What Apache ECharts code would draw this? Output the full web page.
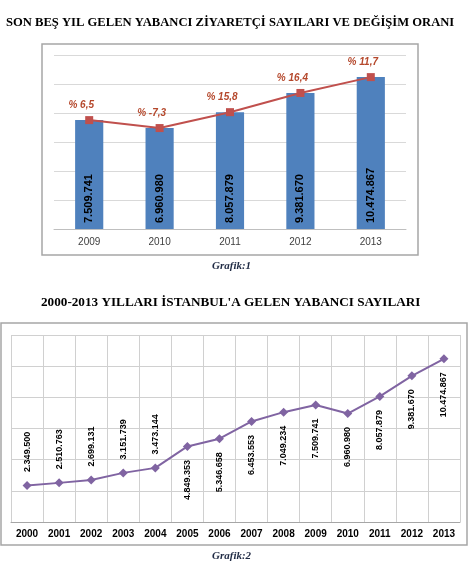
<!DOCTYPE html>
<html>
<head>
<meta charset="utf-8">
<script src="https://cdn.jsdelivr.net/npm/echarts@6/dist/echarts.min.js"></script>
<style>
  html, body { margin: 0; padding: 0; background: #fff; }
  #chart { width: 468px; height: 572px; }
</style>
</head>
<body>
<div id="chart"></div>
<script>
// Grafik 1: son beş yıl
var years1 = ['2009', '2010', '2011', '2012', '2013'];
var visitors1 = [7509741, 6960980, 8057879, 9381670, 10474867];
var changeRates = [6.5, -7.3, 15.8, 16.4, 11.7];

// Grafik 2: 2000-2013
var years2 = ['2000', '2001', '2002', '2003', '2004', '2005', '2006',
    '2007', '2008', '2009', '2010', '2011', '2012', '2013'];
var visitors2 = [2349500, 2510763, 2699131, 3151739, 3473144, 4849353, 5346658,
    6453553, 7049234, 7509741, 6960980, 8057879, 9381670, 10474867];

function fmt(v) {
    return String(v).replace(/\B(?=(\d{3})+(?!\d))/g, '.');
}

var chart = echarts.init(document.getElementById('chart'));

// first five labels above the line, the rest below
var line2Data = visitors2.map(function (v, i) {
    var below = i >= 5;
    return {
        value: v,
        label: {
            position: below ? 'bottom' : 'top',
            align: below ? 'right' : 'left'
        }
    };
});

chart.setOption({
    animation: false,
    title: [{
        text: 'SON BEŞ YIL GELEN YABANCI ZİYARETÇİ SAYILARI VE DEĞİŞİM ORANI',
        left: 6,
        top: 16,
        padding: 0,
        textStyle: { fontFamily: 'Liberation Serif', fontSize: 12.6, fontWeight: 'bold', color: '#000' }
    }, {
        text: 'Grafik:1',
        left: 212,
        top: 261,
        padding: 0,
        textStyle: { fontFamily: 'Liberation Serif', fontSize: 11, fontWeight: 'bold', fontStyle: 'italic', color: '#1f2a44' }
    }, {
        text: '2000-2013 YILLARI İSTANBUL\'A GELEN YABANCI SAYILARI',
        left: 41,
        top: 296,
        padding: 0,
        textStyle: { fontFamily: 'Liberation Serif', fontSize: 13.2, fontWeight: 'bold', color: '#000' }
    }, {
        text: 'Grafik:2',
        left: 212,
        top: 551,
        padding: 0,
        textStyle: { fontFamily: 'Liberation Serif', fontSize: 11, fontWeight: 'bold', fontStyle: 'italic', color: '#1f2a44' }
    }],
    graphic: [{
        type: 'rect',
        shape: { x: 42, y: 44, width: 376, height: 211 },
        style: { fill: 'none', stroke: '#a6a6a6', lineWidth: 1.5 }
    }, {
        type: 'rect',
        shape: { x: 1, y: 323, width: 466, height: 222 },
        style: { fill: 'none', stroke: '#a6a6a6', lineWidth: 1.5 }
    }],
    grid: [
        { left: 54, right: 62, top: 55, bottom: 343 },
        { left: 11, right: 8, top: 335, bottom: 50 }
    ],
    xAxis: [{
        type: 'category',
        gridIndex: 0,
        data: years1,
        axisLine: { lineStyle: { color: '#bfbfbf' } },
        axisTick: { length: 4, lineStyle: { color: '#bfbfbf' } },
        axisLabel: { fontFamily: 'Liberation Sans', fontSize: 10, color: '#404040', margin: 8 }
    }, {
        type: 'category',
        gridIndex: 1,
        data: years2,
        axisLine: { lineStyle: { color: '#a6a6a6' } },
        axisTick: { length: 4, lineStyle: { color: '#c8c8c8' } },
        splitLine: { show: true, lineStyle: { color: '#d0d0d0' } },
        axisLabel: { fontFamily: 'Liberation Sans', fontSize: 10, fontWeight: 'bold', color: '#000', margin: 7 }
    }],
    yAxis: [{
        type: 'value',
        gridIndex: 0,
        min: 0,
        max: 12000000,
        interval: 2000000,
        axisLabel: { show: false },
        axisLine: { show: false },
        splitLine: { lineStyle: { color: '#d9d9d9' } }
    }, {
        type: 'value',
        gridIndex: 1,
        min: 0,
        max: 12000000,
        interval: 2000000,
        axisLabel: { show: false },
        axisLine: { show: false },
        splitLine: { lineStyle: { color: '#d0d0d0' } }
    }],
    series: [{
        name: 'Ziyaretçi',
        type: 'bar',
        xAxisIndex: 0,
        yAxisIndex: 0,
        data: visitors1,
        barWidth: '40%',
        itemStyle: { color: '#4F81BD' },
        label: {
            show: true,
            position: 'insideBottom',
            rotate: 90,
            align: 'left',
            verticalAlign: 'middle',
            distance: 6,
            fontFamily: 'Liberation Sans',
            fontSize: 11,
            fontWeight: 'bold',
            color: '#000',
            formatter: function (p) { return fmt(p.value); }
        }
    }, {
        name: 'Değişim',
        type: 'line',
        xAxisIndex: 0,
        yAxisIndex: 0,
        data: visitors1,
        symbol: 'rect',
        symbolSize: 8,
        itemStyle: { color: '#C0504D' },
        lineStyle: { color: '#C0504D', width: 2 },
        label: {
            show: true,
            position: 'top',
            offset: [-8, -1],
            fontFamily: 'Liberation Sans',
            fontSize: 10,
            fontWeight: 'bold',
            fontStyle: 'italic',
            color: '#B5482C',
            formatter: function (p) {
                return '% ' + changeRates[p.dataIndex].toFixed(1).replace('.', ',');
            }
        }
    }, {
        name: 'Yabancı',
        type: 'line',
        xAxisIndex: 1,
        yAxisIndex: 1,
        data: line2Data,
        symbol: 'diamond',
        symbolSize: 9,
        itemStyle: { color: '#8064A2' },
        lineStyle: { color: '#8064A2', width: 2 },
        label: {
            show: true,
            rotate: 90,
            verticalAlign: 'middle',
            distance: 9,
            fontFamily: 'Liberation Sans',
            fontSize: 9,
            fontWeight: 'bold',
            color: '#000',
            formatter: function (p) { return fmt(p.value); }
        }
    }]
});
</script>
</body>
</html>
